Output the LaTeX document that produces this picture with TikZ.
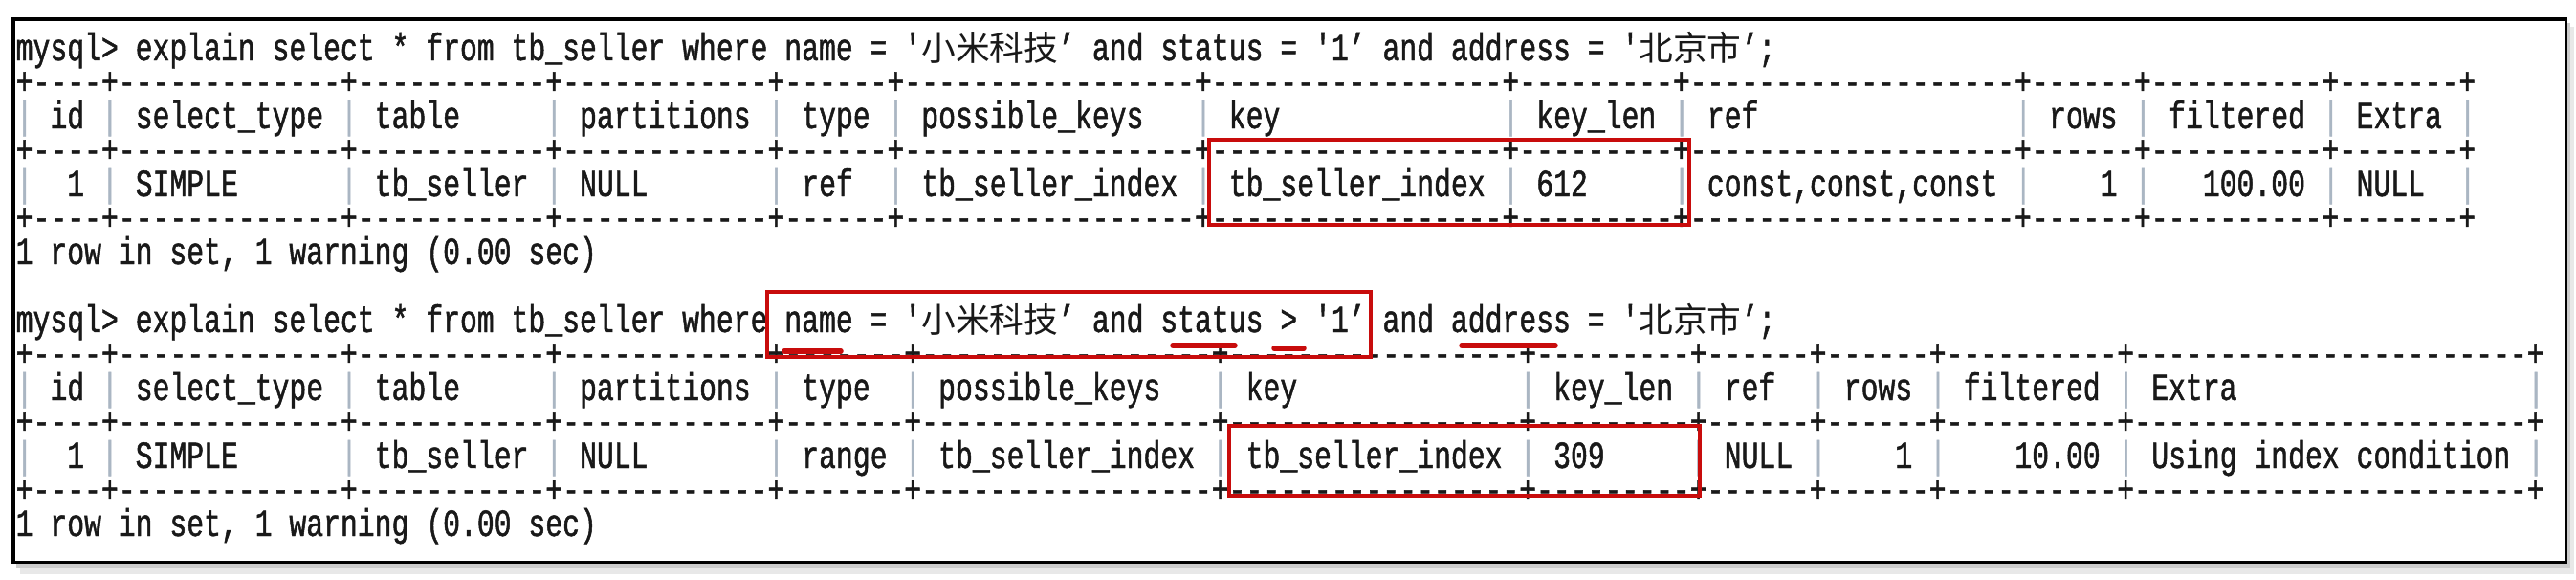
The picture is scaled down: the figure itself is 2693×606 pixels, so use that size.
\documentclass[tikz,border=0pt]{standalone}
\usepackage{fontspec}
\usepackage{xcolor}
\usepackage{tikz}
\usetikzlibrary{positioning, calc}
\newfontfamily\consolefont[FakeStretch=0.7424, FakeBold=1.2, Ligatures=TeXOff]{Liberation Mono}
\newfontfamily\cjkfont{Noto Sans CJK SC}
\definecolor{boxred}{RGB}{200, 12, 12}
\definecolor{consoletext}{RGB}{25, 25, 25}
\definecolor{barcol}{RGB}{170, 182, 195}
\newlength\cw
\newcommand\con{\fontsize{11.4pt}{14pt}\consolefont\settowidth{\cw}{0}\spaceskip=\cw\xspaceskip=\cw\relax}
\newcommand\zh[1]{{\fontsize{10.158pt}{14pt}\cjkfont #1}}
\newcommand\vb{\makebox[\cw]{\color{barcol}|}}
\newcommand\lcell[2]{\hspace*{\cw}\makebox[#1\cw][l]{#2}\hspace*{\cw}\vb}
\newcommand\rcell[2]{\hspace*{\cw}\makebox[#1\cw][r]{#2}\hspace*{\cw}\vb}
\newcommand\border[1]{+\foreach \n in {#1}{\foreach \i in {1,...,\n}{-}+}}

\begin{document}
\begin{tikzpicture}[x=0.01cm, y=-0.01cm,
    conline/.style={anchor=base west, inner sep=0pt, text=consoletext, font=\con},
    redbox/.style={draw=boxred, line width=0.045cm},
    redmark/.style={draw=boxred, line width=0.055cm, line cap=round}]
    \useasboundingbox (0,0) rectangle (2693,606);
    \fill[gray!18] (21,28) rectangle (2691,600);
    \fill[gray!40] (17,24) rectangle (2687,593);
    \draw[line width=0.03cm, fill=white] (14,20) rectangle (2682,587);

    \node[conline] (cmd1) at (16,63) {mysql> explain select * from tb\_seller where name = '\zh{小米科技}’ and status = '1’ and address = '\zh{北京市}’;};
    \node[conline] (t1top) at (16,98.5) {\border{4,13,11,12,6,17,17,9,19,6,10,7}};
    \node[conline] (t1head) at (16,134) {\vb\lcell{2}{id}\lcell{11}{select\_type}\lcell{9}{table}\lcell{10}{partitions}\lcell{4}{type}\lcell{15}{possible\_keys}\lcell{15}{key}\lcell{7}{key\_len}\lcell{17}{ref}\lcell{4}{rows}\lcell{8}{filtered}\lcell{5}{Extra}};
    \node[conline] (t1mid) at (16,169.5) {\border{4,13,11,12,6,17,17,9,19,6,10,7}};
    \node[conline] (t1row) at (16,205) {\vb\rcell{2}{1}\lcell{11}{SIMPLE}\lcell{9}{tb\_seller}\lcell{10}{NULL}\lcell{4}{ref}\lcell{15}{tb\_seller\_index}\lcell{15}{tb\_seller\_index}\lcell{7}{612}\lcell{17}{const,const,const}\rcell{4}{1}\rcell{8}{100.00}\lcell{5}{NULL}};
    \node[conline] (t1bot) at (16,240.5) {\border{4,13,11,12,6,17,17,9,19,6,10,7}};
    \node[conline] (res1) at (16,276) {1 row in set, 1 warning (0.00 sec)};

    \node[conline] (cmd2) at (16,347) {mysql> explain select * from tb\_seller where name = '\zh{小米科技}’ and status > '1’ and address = '\zh{北京市}’;};
    \node[conline] (t2top) at (16,382.5) {\border{4,13,11,12,7,17,17,9,6,6,10,23}};
    \node[conline] (t2head) at (16,418) {\vb\lcell{2}{id}\lcell{11}{select\_type}\lcell{9}{table}\lcell{10}{partitions}\lcell{5}{type}\lcell{15}{possible\_keys}\lcell{15}{key}\lcell{7}{key\_len}\lcell{4}{ref}\lcell{4}{rows}\lcell{8}{filtered}\lcell{21}{Extra}};
    \node[conline] (t2mid) at (16,453.5) {\border{4,13,11,12,7,17,17,9,6,6,10,23}};
    \node[conline] (t2row) at (16,489) {\vb\rcell{2}{1}\lcell{11}{SIMPLE}\lcell{9}{tb\_seller}\lcell{10}{NULL}\lcell{5}{range}\lcell{15}{tb\_seller\_index}\lcell{15}{tb\_seller\_index}\lcell{7}{309}\lcell{4}{NULL}\rcell{4}{1}\rcell{8}{10.00}\lcell{21}{Using index condition}};
    \node[conline] (t2bot) at (16,524.5) {\border{4,13,11,12,7,17,17,9,6,6,10,23}};
    \node[conline] (res2) at (16,560) {1 row in set, 1 warning (0.00 sec)};

    \draw[redbox] (1264,146) rectangle (1766,235);
    \draw[redbox] (802,305) rectangle (1433,373);
    \draw[redbox] (1285,445) rectangle (1777,518);
    \draw[redmark] (820,367) -- (879,367);
    \draw[redmark] (1226,361) -- (1291,361);
    \draw[redmark] (1332,364) -- (1363,364);
    \draw[redmark] (1528,361) -- (1626,361);
\end{tikzpicture}
\end{document}
